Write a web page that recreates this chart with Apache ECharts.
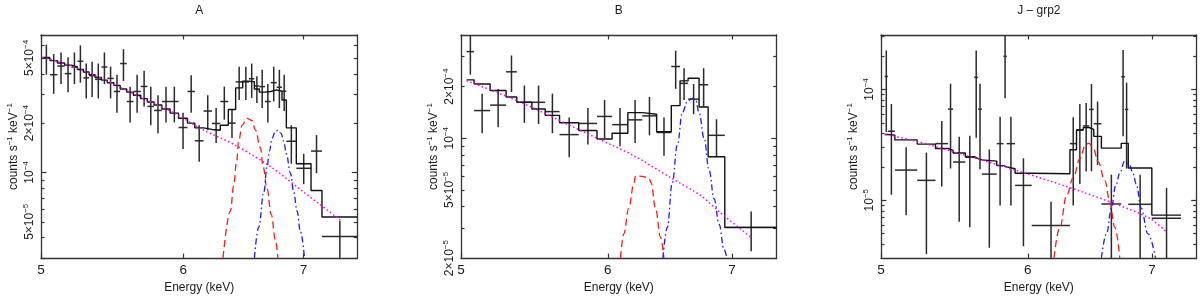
<!DOCTYPE html>
<html><head><meta charset="utf-8">
<script src="https://cdn.jsdelivr.net/npm/echarts@6/dist/echarts.min.js"></script>
<style>html,body{margin:0;padding:0;background:#fff}#c{width:1200px;height:299px}</style>
</head><body><div id="c"></div>
<script>
const FONT = '"Liberation Sans", Arial, Helvetica, sans-serif';

// ---------------- Panel A ----------------
const titleA = 'A';
const xRangeA = [5, 7.5];
const yRangeA = [3.0e-5, 6.9e-4];
const edgesA = [5.011,5.058,5.106,5.154,5.199,5.239,5.279,5.318,5.359,5.403,5.444,5.489,5.534,5.581,5.629,5.682,5.731,5.780,5.838,5.900,5.964,6.033,6.090,6.158,6.225,6.292,6.357,6.417,6.475,6.528,6.573,6.615,6.663,6.712,6.764,6.810,6.848,6.936,7.068,7.168,7.50];
const yA   = [5.03e-4,3.95e-4,4.46e-4,4.01e-4,4.40e-4,4.77e-4,3.78e-4,3.90e-4,3.70e-4,4.40e-4,3.75e-4,3.12e-4,4.62e-4,2.71e-4,3.12e-4,3.35e-4,2.53e-4,2.39e-4,2.71e-4,2.71e-4,1.88e-4,3.12e-4,1.56e-4,2.37e-4,1.99e-4,2.71e-4,2.00e-4,3.57e-4,3.57e-4,3.73e-4,3.37e-4,3.34e-4,2.71e-4,3.53e-4,3.31e-4,3.13e-4,1.55e-4,1.06e-4,1.35e-4,0.406e-4];
const yHiA = [6.04e-4,5.28e-4,5.40e-4,5.05e-4,5.40e-4,5.96e-4,4.62e-4,4.73e-4,4.62e-4,5.40e-4,4.42e-4,3.95e-4,5.65e-4,3.34e-4,3.95e-4,4.17e-4,3.34e-4,2.96e-4,3.34e-4,3.34e-4,2.31e-4,3.92e-4,1.94e-4,2.96e-4,2.47e-4,3.34e-4,2.42e-4,4.42e-4,4.42e-4,4.62e-4,3.87e-4,4.23e-4,3.46e-4,4.42e-4,4.23e-4,3.95e-4,1.94e-4,1.30e-4,1.69e-4,0.507e-4];
const yLoA = [3.95e-4,3.02e-4,3.46e-4,3.09e-4,3.46e-4,3.53e-4,2.83e-4,2.89e-4,2.83e-4,3.46e-4,2.83e-4,2.31e-4,3.61e-4,2.02e-4,2.31e-4,2.53e-4,1.94e-4,1.73e-4,2.02e-4,2.02e-4,1.39e-4,2.31e-4,1.16e-4,1.81e-4,1.51e-4,2.10e-4,1.62e-4,2.77e-4,2.77e-4,2.85e-4,2.65e-4,2.47e-4,2.02e-4,2.71e-4,2.47e-4,2.37e-4,1.13e-4,0.848e-4,0.99e-4,0.272e-4];
const modelA = [4.99e-4,4.81e-4,4.66e-4,4.52e-4,4.40e-4,4.25e-4,4.10e-4,3.95e-4,3.80e-4,3.66e-4,3.53e-4,3.40e-4,3.23e-4,3.09e-4,2.96e-4,2.82e-4,2.69e-4,2.58e-4,2.44e-4,2.30e-4,2.14e-4,2.00e-4,1.87e-4,1.83e-4,1.81e-4,1.94e-4,2.42e-4,3.28e-4,3.61e-4,3.58e-4,3.23e-4,3.09e-4,3.12e-4,3.19e-4,3.13e-4,2.77e-4,1.87e-4,1.13e-4,0.775e-4,0.535e-4];
const contEA = [5.011,5.211,5.440,5.677,5.927,6.160,6.404,6.711,7.002,7.339];
const contVA = [5.05e-4,4.42e-4,3.61e-4,2.89e-4,2.31e-4,1.81e-4,1.48e-4,1.084e-4,0.758e-4,0.512e-4];
const redEA = [6.314,6.374,6.401,6.423,6.442,6.470,6.512,6.554,6.582,6.624,6.647,6.681,6.716,6.753,6.774];
const redVA = [0.301e-4,0.580e-4,0.829e-4,1.13e-4,1.55e-4,1.94e-4,2.14e-4,2.07e-4,1.81e-4,1.416e-4,1.084e-4,0.793e-4,0.555e-4,0.388e-4,0.301e-4];
const blueEA = [6.573,6.610,6.653,6.681,6.701,6.724,6.753,6.774,6.802,6.825,6.848,6.884,6.913,6.943,6.973,7.009];
const blueVA = [0.301e-4,0.464e-4,0.758e-4,1.084e-4,1.35e-4,1.62e-4,1.786e-4,1.81e-4,1.73e-4,1.55e-4,1.30e-4,0.99e-4,0.758e-4,0.580e-4,0.434e-4,0.301e-4];
const yMajorA = [1e-4];
const yMinorA = [3e-5,4e-5,5e-5,6e-5,7e-5,8e-5,9e-5,2e-4,3e-4,4e-4,5e-4,6e-4];
const yLabValA = [5e-5,1e-4,2e-4,5e-4];
const yLabManA = ['5×10','10','2×10','5×10'];
const yLabExpA = ['−5','−4','−4','−4'];

// ---------------- Panel B ----------------
const titleB = 'B';
const xRangeB = [5, 7.4];
const yRangeB = [2.0e-5, 4.0e-4];
const edgesB = [5.035,5.082,5.184,5.288,5.359,5.460,5.551,5.651,5.787,5.920,6.032,6.151,6.262,6.375,6.492,6.563,6.629,6.720,6.796,6.938,7.40];
const yB   = [3.20e-4,1.45e-4,1.56e-4,2.44e-4,1.62e-4,1.62e-4,1.43e-4,1.05e-4,1.22e-4,1.34e-4,1.20e-4,1.28e-4,1.35e-4,1.08e-4,2.62e-4,2.09e-4,1.69e-4,2.05e-4,1.04e-4,0.302e-4];
const yHiB = [4.10e-4,1.82e-4,1.94e-4,3.04e-4,2.03e-4,2.03e-4,1.82e-4,1.32e-4,1.50e-4,1.67e-4,1.50e-4,1.67e-4,1.74e-4,1.32e-4,3.24e-4,2.56e-4,2.07e-4,2.56e-4,1.29e-4,0.374e-4];
const yLoB = [2.35e-4,1.07e-4,1.16e-4,1.86e-4,1.23e-4,1.21e-4,1.07e-4,0.774e-4,0.918e-4,1.00e-4,0.899e-4,0.938e-4,1.04e-4,0.790e-4,1.94e-4,1.67e-4,1.38e-4,1.53e-4,0.774e-4,0.219e-4];
const modelB = [2.19e-4,2.07e-4,1.90e-4,1.74e-4,1.62e-4,1.48e-4,1.36e-4,1.23e-4,1.11e-4,0.99e-4,1.07e-4,1.41e-4,1.38e-4,1.09e-4,1.55e-4,2.16e-4,2.24e-4,1.52e-4,0.780e-4,0.302e-4];
const contEB = [5.035,5.249,5.471,5.703,5.920,6.198,6.492,6.734,6.904,7.166];
const contVB = [2.16e-4,1.82e-4,1.50e-4,1.21e-4,1.00e-4,0.790e-4,0.586e-4,0.463e-4,0.366e-4,0.265e-4];
const redEB = [6.095,6.120,6.158,6.198,6.210,6.262,6.314,6.332,6.366,6.406,6.433];
const redVB = [0.20e-4,0.277e-4,0.390e-4,0.549e-4,0.603e-4,0.600e-4,0.586e-4,0.549e-4,0.390e-4,0.265e-4,0.20e-4];
const blueEB = [6.425,6.460,6.500,6.541,6.582,6.623,6.664,6.692,6.720,6.762,6.804,6.847,6.889,6.932,6.956];
const blueVB = [0.20e-4,0.302e-4,0.549e-4,0.918e-4,1.41e-4,1.64e-4,1.71e-4,1.67e-4,1.41e-4,1.00e-4,0.652e-4,0.443e-4,0.315e-4,0.224e-4,0.20e-4];
const yMajorB = [1e-4];
const yMinorB = [3e-5,4e-5,5e-5,6e-5,7e-5,8e-5,9e-5,2e-4,3e-4];
const yLabValB = [2.00001e-5,5e-5,1e-4,2e-4];
const yLabManB = ['2×10','5×10','10','2×10'];
const yLabExpB = ['−5','−5','−4','−4'];

// ---------------- Panel J - grp2 ----------------
const titleC = 'J – grp2';
const xRangeC = [5, 7.4];
const yRangeC = [3.0e-6, 3.1e-4];
const edgesC = [5.023,5.043,5.087,5.230,5.350,5.434,5.468,5.552,5.614,5.641,5.667,5.773,5.821,5.845,5.906,6.029,6.322,6.374,6.427,6.475,6.512,6.574,6.738,6.769,6.797,6.999,7.257];
const yC   = [13.1e-5,4.19e-5,1.87e-5,1.51e-5,3.24e-5,6.64e-5,2.21e-5,2.44e-5,12.85e-5,6.64e-5,1.72e-5,3.24e-5,19.9e-5,3.24e-5,1.36e-5,0.590e-5,3.24e-5,4.30e-5,4.68e-5,6.60e-5,4.90e-5,0.924e-5,13.0e-5,6.60e-5,0.918e-5,0.687e-5];
const yHiC = [22.5e-5,7.38e-5,3.01e-5,2.69e-5,5.20e-5,11.26e-5,3.74e-5,3.82e-5,22.5e-5,11.26e-5,2.87e-5,5.67e-5,33.0e-5,5.67e-5,2.39e-5,0.968e-5,5.60e-5,7.38e-5,7.53e-5,11.19e-5,7.78e-5,1.70e-5,22.7e-5,11.5e-5,1.70e-5,1.29e-5];
const yLoC = [4.13e-5,1.12e-5,0.733e-5,0.326e-5,1.33e-5,1.93e-5,0.639e-5,0.571e-5,3.67e-5,1.90e-5,0.372e-5,0.894e-5,8.32e-5,0.894e-5,0.384e-5,0.242e-5,0.894e-5,1.40e-5,1.82e-5,1.82e-5,2.08e-5,0.212e-5,3.77e-5,1.93e-5,0.212e-5,0.212e-5];
const modelC = [3.92e-5,3.87e-5,3.50e-5,3.21e-5,2.93e-5,2.82e-5,2.67e-5,2.47e-5,2.37e-5,2.31e-5,2.25e-5,2.05e-5,2.00e-5,1.92e-5,1.75e-5,1.73e-5,2.85e-5,4.30e-5,4.53e-5,4.36e-5,3.77e-5,2.95e-5,3.26e-5,3.26e-5,1.95e-5,0.733e-5];
const contEC = [5.029,5.230,5.450,5.679,5.918,6.167,6.427,6.697,6.979,7.128];
const contVC = [3.92e-5,3.39e-5,2.78e-5,2.28e-5,1.85e-5,1.49e-5,1.18e-5,0.918e-5,0.687e-5,0.517e-5];
const redEC = [6.198,6.244,6.296,6.348,6.401,6.441,6.473,6.507,6.548,6.602,6.643,6.684,6.726];
const redVC = [0.301e-5,0.571e-5,1.10e-5,1.60e-5,2.37e-5,3.07e-5,3.28e-5,2.97e-5,2.22e-5,1.50e-5,0.968e-5,0.571e-5,0.301e-5];
const blueEC = [6.574,6.616,6.657,6.691,6.726,6.766,6.808,6.836,6.865,6.907,6.964,7.031];
const blueVC = [0.301e-5,0.500e-5,0.848e-5,1.35e-5,1.75e-5,2.25e-5,2.07e-5,1.75e-5,1.40e-5,0.848e-5,0.500e-5,0.301e-5];
const yMajorC = [1e-5,1e-4];
const yMinorC = [4e-6,5e-6,6e-6,7e-6,8e-6,9e-6,2e-5,3e-5,4e-5,5e-5,6e-5,7e-5,8e-5,9e-5,2e-4,3e-4];
const yLabValC = [1e-5,1e-4];
const yLabManC = ['10','10'];
const yLabExpC = ['−5','−4'];

// shared
const xTickVals = [5,6,7];
const xName = 'Energy (keV)';
const yName = ['counts s','−1',' keV','−1'];

const panels = [
  {title:titleA, xr:xRangeA, yr:yRangeA, edges:edgesA, y:yA, hi:yHiA, lo:yLoA, model:modelA, cE:contEA, cV:contVA, rE:redEA, rV:redVA, bE:blueEA, bV:blueVA, maj:yMajorA, min:yMinorA, lv:yLabValA, lm:yLabManA, le:yLabExpA},
  {title:titleB, xr:xRangeB, yr:yRangeB, edges:edgesB, y:yB, hi:yHiB, lo:yLoB, model:modelB, cE:contEB, cV:contVB, rE:redEB, rV:redVB, bE:blueEB, bV:blueVB, maj:yMajorB, min:yMinorB, lv:yLabValB, lm:yLabManB, le:yLabExpB},
  {title:titleC, xr:xRangeC, yr:yRangeC, edges:edgesC, y:yC, hi:yHiC, lo:yLoC, model:modelC, cE:contEC, cV:contVC, rE:redEC, rV:redVC, bE:blueEC, bV:blueVC, maj:yMajorC, min:yMinorC, lv:yLabValC, lm:yLabManC, le:yLabExpC}
];

const grids = [
  {left:41, top:31.7, width:316.3, height:234},
  {left:461, top:31.7, width:315.7, height:234},
  {left:881, top:31.7, width:315.7, height:234}
];

const AX = '#333';
const TXT = '#1a1a1a';
const rich = {
  b:{fontSize:12, fontFamily:FONT, color:TXT},
  s:{fontSize:8, fontFamily:FONT, color:TXT, padding:[0,0,7,0]}
};

function crossData(p){ return p.y.map((v,i)=>[(p.edges[i]+p.edges[i+1])/2, v, p.edges[i], p.edges[i+1], p.lo[i], p.hi[i]]); }
function stepData(p){ const o=[]; p.model.forEach((v,i)=>{o.push([p.edges[i],v]);o.push([p.edges[i+1],v]);}); return o; }
function zip(a,b){ return a.map((x,i)=>[x,b[i]]); }

function renderCross(params, api){
  const xc=api.value(0), y=api.value(1);
  const a=api.coord([api.value(2),y]), b=api.coord([api.value(3),y]);
  const t=api.coord([xc,api.value(5)]), d=api.coord([xc,api.value(4)]);
  const st={stroke:'#2a2a2a', lineWidth:1.5};
  return {type:'group', children:[
    {type:'line', shape:{x1:a[0],y1:a[1],x2:b[0],y2:b[1]}, style:st},
    {type:'line', shape:{x1:t[0],y1:t[1],x2:d[0],y2:d[1]}, style:st}
  ]};
}

const option = {animation:false, backgroundColor:'#fff', textStyle:{fontFamily:FONT}, grid:grids, xAxis:[], yAxis:[], series:[]};

panels.forEach((p,i)=>{
  const xb = option.xAxis.length;
  const commonX = {type:'log', logBase:10, gridIndex:i, min:p.xr[0], max:p.xr[1], splitLine:{show:false},
    axisLine:{show:true, lineStyle:{color:AX, width:1.3}}};
  option.xAxis.push(Object.assign({}, commonX, {position:'bottom',
    axisTick:{show:true, inside:true, length:4.5, customValues:xTickVals, lineStyle:{color:AX, width:1.2}},
    axisLabel:{show:true, customValues:xTickVals, formatter:v=>String(Math.round(v)), fontSize:13.5, color:TXT, margin:5, fontFamily:FONT},
    name:xName, nameLocation:'middle', nameGap:20, nameTextStyle:{fontSize:12, color:TXT, fontFamily:FONT}}));
  option.xAxis.push(Object.assign({}, commonX, {position:'top',
    axisTick:{show:true, inside:true, length:4.5, customValues:xTickVals, lineStyle:{color:AX, width:1.2}},
    axisLabel:{show:false},
    name:p.title, nameLocation:'middle', nameGap:18, nameTextStyle:{fontSize:12, color:TXT, fontFamily:FONT}}));

  const yb = option.yAxis.length;
  const commonY = {type:'log', logBase:10, gridIndex:i, min:p.yr[0], max:p.yr[1], splitLine:{show:false}};
  const labFmt = v => { let k=0, best=1e9; p.lv.forEach((lv,j)=>{const d=Math.abs(Math.log(v/lv)); if(d<best){best=d;k=j;}}); return '{b|'+p.lm[k]+'}{s|'+p.le[k]+'}'; };
  option.yAxis.push(Object.assign({}, commonY, {position:'left',
    axisLine:{show:true, lineStyle:{color:AX, width:1.3}},
    axisTick:{show:true, inside:true, length:5.5, customValues:p.maj, lineStyle:{color:AX, width:1.2}},
    axisLabel:{show:true, customValues:p.lv, formatter:labFmt, rotate:90, margin:4, rich:rich, showMinLabel:true, showMaxLabel:true},
    name:'{b|'+yName[0]+'}{s|'+yName[1]+'}{b|'+yName[2]+'}{s|'+yName[3]+'}', nameLocation:'middle', nameRotate:90, nameGap:20,
    nameTextStyle:{rich:rich}}));
  option.yAxis.push(Object.assign({}, commonY, {position:'left', axisLine:{show:false},
    axisTick:{show:true, inside:true, length:3.5, customValues:p.min, lineStyle:{color:AX, width:1.2}}, axisLabel:{show:false}}));
  option.yAxis.push(Object.assign({}, commonY, {position:'right',
    axisLine:{show:true, lineStyle:{color:AX, width:1.3}},
    axisTick:{show:true, inside:true, length:5.5, customValues:p.maj, lineStyle:{color:AX, width:1.2}}, axisLabel:{show:false}}));
  option.yAxis.push(Object.assign({}, commonY, {position:'right', axisLine:{show:false},
    axisTick:{show:true, inside:true, length:3.5, customValues:p.min, lineStyle:{color:AX, width:1.2}}, axisLabel:{show:false}}));

  const base = {xAxisIndex:xb, yAxisIndex:yb, silent:true};
  option.series.push(Object.assign({}, base, {type:'custom', renderItem:renderCross, data:crossData(p), encode:{x:0,y:1}, clip:true, z:2}));
  option.series.push(Object.assign({}, base, {type:'line', data:stepData(p), symbol:'none', clip:true, lineStyle:{color:'#111', width:1.4}, z:3}));
  option.series.push(Object.assign({}, base, {type:'line', data:zip(p.cE,p.cV), symbol:'none', smooth:0.3, clip:true, lineStyle:{color:'#ff00ff', width:1.5, type:[1.5,2.5]}, z:4}));
  option.series.push(Object.assign({}, base, {type:'line', data:zip(p.rE,p.rV), symbol:'none', smooth:0.4, smoothMonotone:'x', clip:true, lineStyle:{color:'#ff1a1a', width:1.3, type:[7,4]}, z:5}));
  option.series.push(Object.assign({}, base, {type:'line', data:zip(p.bE,p.bV), symbol:'none', smooth:0.4, smoothMonotone:'x', clip:true, lineStyle:{color:'#1a1aff', width:1.3, type:[6,3,1.5,3]}, z:5}));
});

const chart = echarts.init(document.getElementById('c'), null, {renderer:'canvas'});
chart.setOption(option);
</script>
</body></html>
